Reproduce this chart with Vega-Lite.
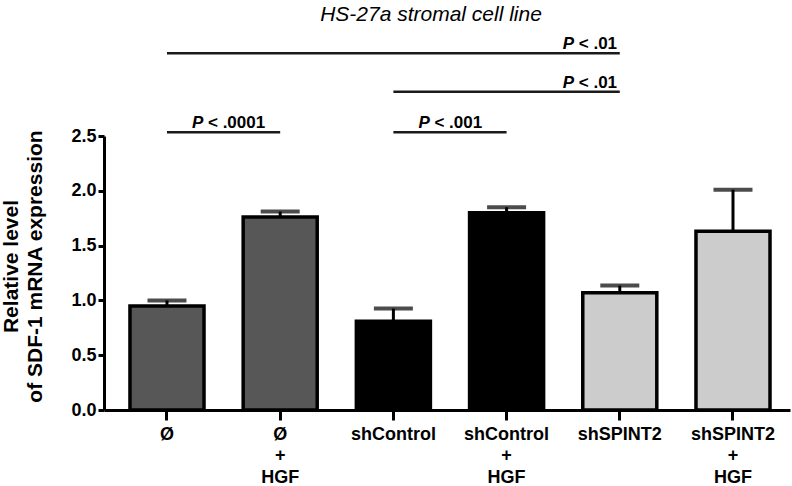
{
  "$schema": "https://vega.github.io/schema/vega-lite/v6.json",
  "width": 686,
  "height": 274,
  "autosize": {"type": "none"},
  "padding": {"left": 104, "top": 136, "right": 2, "bottom": 76},
  "background": "white",
  "title": {
    "text": "HS-27a stromal cell line",
    "font": "Liberation Sans",
    "fontSize": 21,
    "fontStyle": "italic",
    "fontWeight": "normal",
    "color": "#000",
    "anchor": "middle",
    "frame": "group",
    "dx": -16,
    "offset": 10
  },
  "datasets": {
    "bars": [
      {"cat": "Ø", "group": "none", "mean": 0.95, "upper": 1.0},
      {"cat": "Ø\n+\nHGF", "group": "none", "mean": 1.76, "upper": 1.81},
      {"cat": "shControl", "group": "shControl", "mean": 0.81, "upper": 0.925},
      {"cat": "shControl\n+\nHGF", "group": "shControl", "mean": 1.8, "upper": 1.85},
      {"cat": "shSPINT2", "group": "shSPINT2", "mean": 1.07, "upper": 1.135},
      {"cat": "shSPINT2\n+\nHGF", "group": "shSPINT2", "mean": 1.63, "upper": 2.01}
    ],
    "annot": [
      {"cat": "Ø", "to": "shSPINT2", "anchor": "shSPINT2", "side": "right", "y": 3.255, "p": "P", "rest": "< .01"},
      {"cat": "shControl", "to": "shSPINT2", "anchor": "shSPINT2", "side": "right", "y": 2.904, "p": "P", "rest": "< .01"},
      {"cat": "Ø", "to": "Ø\n+\nHGF", "anchor": "Ø", "side": "left", "y": 2.534, "p": "P", "rest": "< .0001"},
      {"cat": "shControl", "to": "shControl\n+\nHGF", "anchor": "shControl", "side": "left", "y": 2.534, "p": "P", "rest": "< .001"}
    ]
  },
  "layer": [
    {
      "data": {"name": "bars"},
      "mark": {"type": "bar", "stroke": "#000", "strokeWidth": 3.5},
      "encoding": {
        "x": {"field": "cat", "type": "nominal", "title": null,
              "scale": {"domain": ["Ø", "Ø\n+\nHGF", "shControl", "shControl\n+\nHGF", "shSPINT2", "shSPINT2\n+\nHGF"],
                        "paddingInner": 0.346, "paddingOuter": 0.203, "align": 0.565}},
        "y": {"field": "mean", "type": "quantitative",
              "scale": {"domain": [0, 2.5], "nice": false},
              "axis": {"title": ["Relative level", "of SDF-1 mRNA expression"], "values": [0, 0.5, 1, 1.5, 2, 2.5], "format": ".1f", "titleY": 130}},
        "color": {"field": "group", "type": "nominal", "legend": null,
                  "scale": {"domain": ["none", "shControl", "shSPINT2"], "range": ["#575757", "#000000", "#cccccc"]}}
      }
    },
    {
      "data": {"name": "bars"},
      "mark": {"type": "rule", "color": "#000", "strokeWidth": 3},
      "encoding": {
        "x": {"field": "cat", "type": "nominal", "title": null},
        "y": {"field": "mean", "type": "quantitative"},
        "y2": {"field": "upper"}
      }
    },
    {
      "data": {"name": "bars"},
      "mark": {"type": "tick", "color": "#000", "thickness": 4, "size": 39},
      "encoding": {
        "x": {"field": "cat", "type": "nominal", "title": null},
        "y": {"field": "upper", "type": "quantitative"}
      }
    },
    {
      "data": {"name": "annot"},
      "mark": {"type": "rule", "color": "#1a1a1a", "strokeWidth": 2.5},
      "encoding": {
        "x": {"field": "cat", "type": "nominal", "title": null},
        "x2": {"field": "to"},
        "y": {"field": "y", "type": "quantitative"}
      }
    },
    {
      "data": {"name": "annot"},
      "transform": [{"filter": "datum.side === 'left'"}],
      "mark": {"type": "text", "font": "Liberation Sans", "fontSize": 17, "fontWeight": "bold", "fontStyle": "italic", "align": "left", "baseline": "alphabetic", "dx": 25, "dy": -4, "color": "#000"},
      "encoding": {
        "x": {"field": "anchor", "type": "nominal", "title": null},
        "y": {"field": "y", "type": "quantitative"},
        "text": {"field": "p"}
      }
    },
    {
      "data": {"name": "annot"},
      "transform": [{"filter": "datum.side === 'left'"}],
      "mark": {"type": "text", "font": "Liberation Sans", "fontSize": 17, "fontWeight": "bold", "align": "left", "baseline": "alphabetic", "dx": 41, "dy": -4, "color": "#000"},
      "encoding": {
        "x": {"field": "anchor", "type": "nominal", "title": null},
        "y": {"field": "y", "type": "quantitative"},
        "text": {"field": "rest"}
      }
    },
    {
      "data": {"name": "annot"},
      "transform": [{"filter": "datum.side === 'right'"}],
      "mark": {"type": "text", "font": "Liberation Sans", "fontSize": 17, "fontWeight": "bold", "fontStyle": "italic", "align": "left", "baseline": "alphabetic", "dx": -57, "dy": -4, "color": "#000"},
      "encoding": {
        "x": {"field": "anchor", "type": "nominal", "title": null},
        "y": {"field": "y", "type": "quantitative"},
        "text": {"field": "p"}
      }
    },
    {
      "data": {"name": "annot"},
      "transform": [{"filter": "datum.side === 'right'"}],
      "mark": {"type": "text", "font": "Liberation Sans", "fontSize": 17, "fontWeight": "bold", "align": "left", "baseline": "alphabetic", "dx": -41, "dy": -4, "color": "#000"},
      "encoding": {
        "x": {"field": "anchor", "type": "nominal", "title": null},
        "y": {"field": "y", "type": "quantitative"},
        "text": {"field": "rest"}
      }
    }
  ],
  "config": {
    "view": {"stroke": null},
    "font": "Liberation Sans",
    "axis": {
      "grid": false,
      "domainColor": "#000",
      "domainWidth": 3,
      "tickColor": "#000",
      "tickWidth": 3,
      "labelColor": "#000",
      "labelFont": "Liberation Sans",
      "labelFontWeight": "bold",
      "titleColor": "#000",
      "titleFont": "Liberation Sans",
      "titleFontWeight": "bold"
    },
    "axisX": {
      "labelFontSize": 18,
      "labelAngle": 0,
      "tickSize": 10,
      "labelPadding": 5,
      "labelLineHeight": 21.5,
      "labelExpr": "split(datum.label, '\\n')"
    },
    "axisY": {
      "labelFontSize": 18,
      "tickSize": 6,
      "labelPadding": 2,
      "titleFontSize": 21,
      "titlePadding": 25,
      "titleLineHeight": 24
    }
  }
}
